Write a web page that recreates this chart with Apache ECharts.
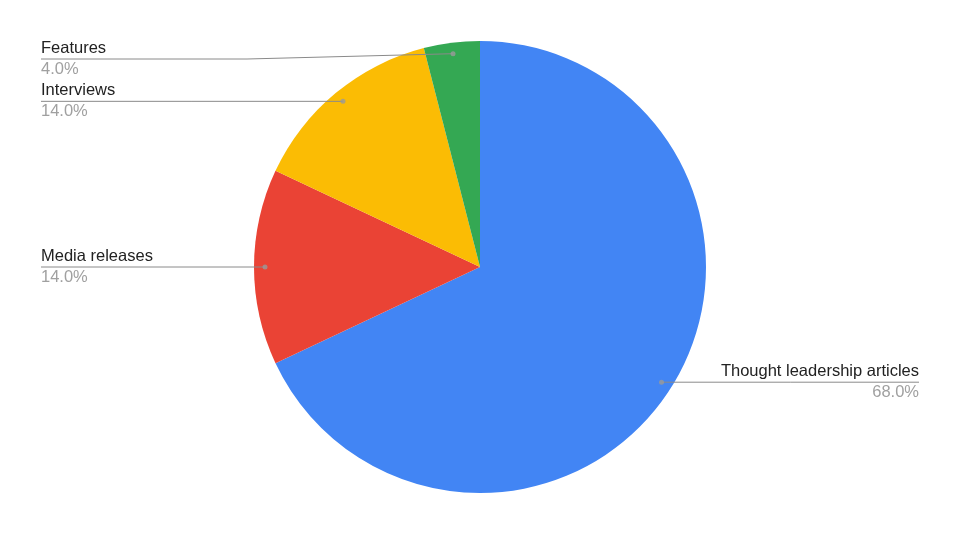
<!DOCTYPE html>
<html lang="en">
<head>
    <meta charset="UTF-8">
    <title>Pie</title>
    <script src="https://cdn.jsdelivr.net/npm/echarts@6/dist/echarts.min.js"></script>
    <style>
        html, body { margin: 0; padding: 0; background: #fff; }
        #main { width: 960px; height: 540px; }
    </style>
</head>
<body>
<div id="main"></div>
<script type="text/javascript">
    // data
    var categories = ['Thought leadership articles', 'Media releases', 'Interviews', 'Features'];
    var values = [68, 14, 14, 4];
    var colors = ['#4285F4', '#EA4335', '#FBBC04', '#34A853'];

    var cx = 480, cy = 267, R = 226, dotR = 215;

    var pieData = categories.map(function (name, i) {
        return {value: values[i], name: name, itemStyle: {color: colors[i]}};
    });
    // same slices, see-through, only to carry the labels above the pie
    var labelData = categories.map(function (name, i) {
        return {value: values[i], name: name};
    });

    // dots sit inside each slice at its middle angle
    var total = values.reduce(function (a, b) { return a + b; }, 0);
    var acc = 0;
    var dotData = values.map(function (v) {
        var mid = (acc + v / 2) / total * 100;
        acc += v;
        return [dotR, mid];
    });

    var myChart = echarts.init(document.getElementById('main'));

    var option = {
        animation: false,
        polar: {center: [cx, cy], radius: R},
        angleAxis: {type: 'value', min: 0, max: 100, startAngle: 90, show: false},
        radiusAxis: {type: 'value', min: 0, max: R, show: false},
        series: [
            {
                type: 'pie',
                center: [cx, cy],
                radius: [0, R],
                startAngle: 90,
                data: pieData,
                label: {show: false},
                labelLine: {show: false},
                emphasis: {disabled: true},
                z: 1
            },
            {
                type: 'pie',
                center: [cx, cy],
                radius: [0, R],
                startAngle: 90,
                data: labelData,
                itemStyle: {color: 'rgba(0,0,0,0)'},
                label: {
                    position: 'outside',
                    alignTo: 'edge',
                    edgeDistance: 41,
                    formatter: function (p) {
                        return '{n|' + p.name + '}\n{p|' + p.percent.toFixed(1) + '%}';
                    },
                    rich: {
                        n: {fontFamily: 'Liberation Sans', fontSize: 16.5, color: '#222', lineHeight: 21},
                        p: {fontFamily: 'Liberation Sans', fontSize: 16.5, color: '#a0a0a0', lineHeight: 21}
                    }
                },
                labelLine: {
                    show: true,
                    length: 10,
                    length2: 10,
                    lineStyle: {color: '#8a8a8a', width: 1}
                },
                labelLayout: function (params) {
                    var p0 = params.labelLinePoints[0];
                    var dx = p0[0] - cx, dy = p0[1] - cy;
                    var d = Math.sqrt(dx * dx + dy * dy);
                    var dot = [cx + dx / d * dotR, cy + dy / d * dotR];
                    var rect = params.labelRect;
                    var left = dot[0] < cx;
                    var farX = left ? rect.x : rect.x + rect.width;
                    // keep the top label off the upper edge
                    var y = Math.max(dot[1], 40 + rect.height / 2);
                    return {
                        y: y,
                        labelLinePoints: [dot, [(dot[0] + farX) / 2, y], [farX, y]]
                    };
                },
                emphasis: {disabled: true},
                silent: true,
                z: 3
            },
            {
                type: 'scatter',
                coordinateSystem: 'polar',
                data: dotData,
                symbolSize: 5,
                itemStyle: {color: '#9a9a9a'},
                silent: true,
                z: 5
            }
        ]
    };

    myChart.setOption(option);
</script>
</body>
</html>
